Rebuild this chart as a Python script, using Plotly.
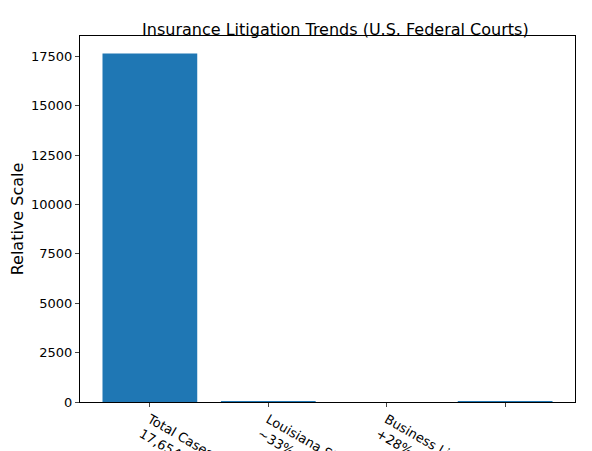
import plotly.graph_objects as go

categories = ["Total Cases<br>17,654", "Louisiana Share<br>~33%", "Business Liability<br>+28%", "Business Interruption<br>Record High"]
values = [17654, 33, 0, 40]

fig = go.Figure(go.Bar(x=list(range(len(categories))), y=values, width=0.8,
                       marker=dict(color="#1f77b4", line=dict(width=0))))
fig.update_layout(
    width=592, height=451, margin=dict(l=72, r=25, t=28, b=57, autoexpand=False),
    plot_bgcolor="white", paper_bgcolor="white", showlegend=False,
    font=dict(family="DejaVu Sans", size=13, color="black"),
    title=dict(text="Insurance Litigation Trends (U.S. Federal Courts)", x=0.553, xanchor="center",
               y=0.965, font=dict(size=16)),
)
fig.update_xaxes(range=[-0.59, 3.59], tickvals=list(range(len(categories))), ticktext=categories,
                 showline=True, linecolor="black", mirror=True, ticks="outside", ticklen=4,
                 showgrid=False, zeroline=False, automargin=False)
fig.update_yaxes(range=[0, 18537], dtick=2500, title_text="Relative Scale", showline=True,
                 linecolor="black", mirror=True, ticks="outside", ticklen=4, showgrid=False,
                 zeroline=False, tickformat="d", automargin=False, title_standoff=8)
fig.write_html("out.html")
